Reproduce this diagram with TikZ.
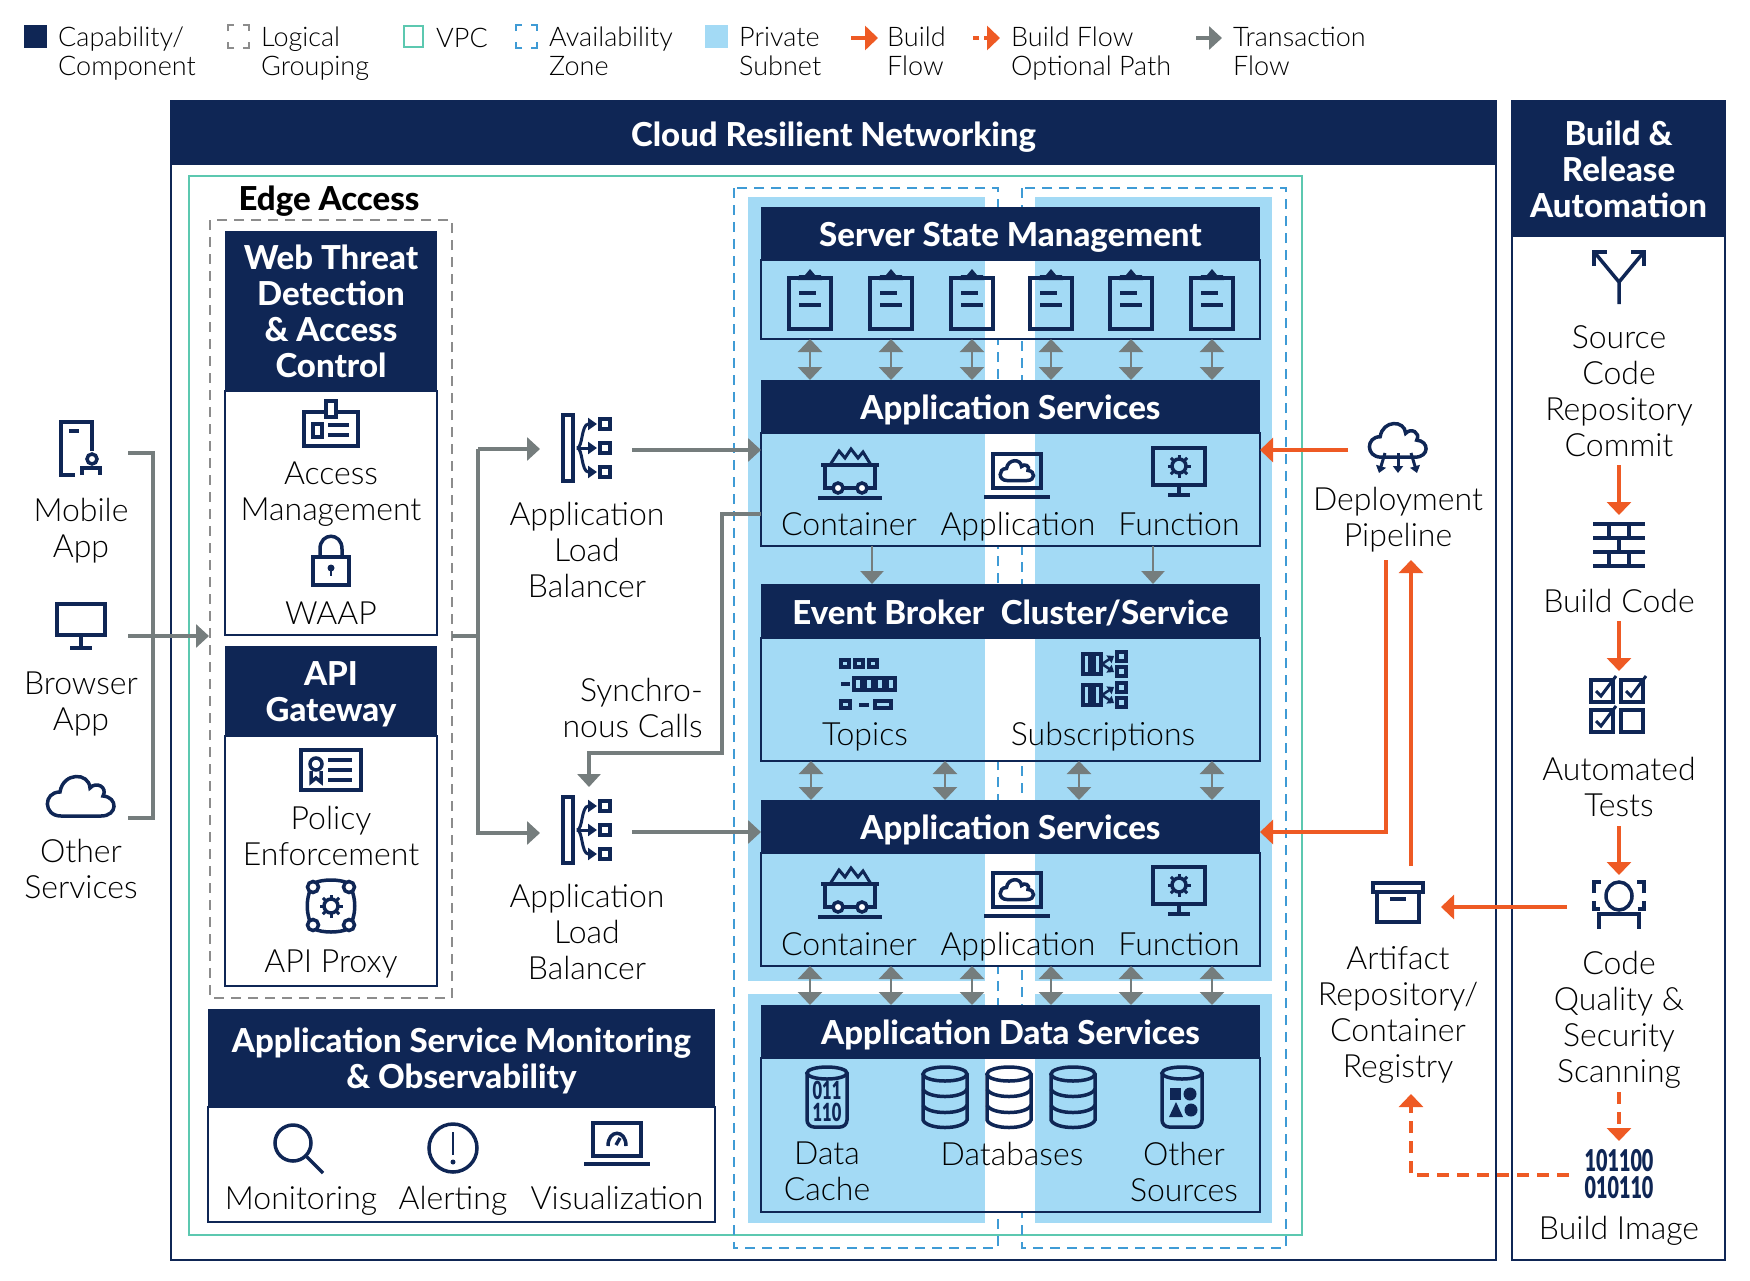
\documentclass[tikz,border=0pt]{standalone}
\usepackage{fontspec}
\setmainfont{Lato}
\newfontfamily\lightfont{Lato Light}
\newfontfamily\headfont{Lato Heavy}
\newfontfamily\bitsfont{Lato Black}[FakeStretch=0.66]
\usetikzlibrary{arrows.meta}

\definecolor{navy}{HTML}{0F2655}
\definecolor{subnet}{HTML}{A3DAF5}
\definecolor{vpcteal}{HTML}{5CC8B0}
\definecolor{azblue}{HTML}{3F9BD5}
\definecolor{txgrey}{HTML}{757D7D}
\definecolor{bforange}{HTML}{EE5A24}
\definecolor{grpgrey}{HTML}{8C8C8C}

\tikzset{
  lbl/.style={align=center,inner sep=0pt,yshift=-5pt,text=black,font=\lightfont\fontsize{32}{36}\selectfont,
    execute at begin node=\strut,execute at end node=\strut},
  leg/.style={align=left,anchor=west,inner sep=0pt,yshift=-5pt,text=black,font=\lightfont\fontsize{27}{29}\selectfont,
    execute at begin node=\strut,execute at end node=\strut},
  headbar/.style={fill=navy,inner sep=0pt,outer sep=0pt},
  headtxt/.style={text=white,align=center,inner sep=0pt,yshift=-6pt,font=\headfont\fontsize{33}{36}\selectfont,
    execute at begin node=\strut,execute at end node=\strut},
  bodybox/.style={draw=navy,line width=2.5pt,inner sep=0pt,outer sep=0pt},
  ico/.style={draw=navy,line width=3.5pt},
  tx/.style={draw=txgrey,line width=3.5pt,-{Triangle[length=13pt,width=23pt]}},
  twoway/.style={draw=txgrey,line width=2.5pt,{Triangle[length=13pt,width=24pt]}-{Triangle[length=13pt,width=24pt]}},
  build/.style={draw=bforange,line width=3.5pt,-{Triangle[length=13pt,width=24pt]}},
  buildopt/.style={build,dash pattern=on 12pt off 8pt},
}

% nombre, x1, x2, ytop, yhead, ybot, titulo
\newcommand{\panelbox}[7]{%
  \node[bodybox,minimum width={(#3-#2)*1pt},minimum height={(#6-#5)*1pt}] (#1body) at ({(#2+#3)/2},{(#5+#6)/2}) {};
  \node[headbar,minimum width={(#3-#2)*1pt},minimum height={(#5-#4)*1pt}] (#1) at ({(#2+#3)/2},{(#4+#5)/2}) {};
  \node[headtxt] (#1txt) at (#1) {#7};
}

% --- Iconos ---
\newcommand{\iconclip}[1]{\begin{scope}[shift={(#1)}]
  \draw[ico] (-21,-21) rectangle (21,30);
  \fill[navy] (-12,-19) -- (-11,-24) -- (-5,-24) -- (0,-30) -- (5,-24) -- (11,-24) -- (12,-19) -- cycle;
  \draw[ico] (-11,-6) -- (6,-6) (-11,6) -- (11,6);
\end{scope}}
\newcommand{\iconcloud}[2]{\begin{scope}[shift={(#1)},scale=#2]
  \draw[ico] (-20,19) .. controls (-38,19) and (-38,-5) .. (-21,-5)
    .. controls (-18,-25) and (8,-25) .. (9,-9)
    .. controls (15,-16) and (27,-10) .. (22,-1)
    .. controls (37,0) and (37,19) .. (20,19) -- cycle;
\end{scope}}
\newcommand{\icongear}[2]{\begin{scope}[shift={(#1)},scale=#2]
  \draw[ico] (0,0) circle (7);
  \foreach \a in {0,45,...,315} { \draw[draw=navy,line width=3pt] (\a:7) -- (\a:11.5); }
\end{scope}}
\newcommand{\iconlb}[1]{\begin{scope}[shift={(#1)}]
  \draw[ico] (-24,-33) rectangle (-14,33);
  \foreach \y in {-24,0,24} {
    \draw[ico] (13,\y-5) rectangle (23,\y+5);
    \draw[draw=navy,line width=3pt,-{Triangle[length=9pt,width=12pt]}] (-10,0) .. controls (-4,0) and (-6,\y) .. (10,\y);
  }
\end{scope}}
\newcommand{\iconcart}[1]{\begin{scope}[shift={(#1)}]
  \draw[ico] (-29,-8) -- (29,-8) (-25,-8) -- (-25,15) -- (25,15) -- (25,-8);
  \draw[draw=navy,line width=3pt] (-20,-8) -- (-11,-22) -- (-5,-15) -- (1,-24) -- (8,-15) -- (13,-21) -- (21,-8);
  \draw[ico,fill=white] (-12,15) circle (5) (12,15) circle (5);
  \draw[ico] (-32,25) -- (32,25);
\end{scope}}
\newcommand{\iconlaptop}[1]{\begin{scope}[shift={(#1)}]
  \draw[ico] (-24,-22) rectangle (24,12);
  \iconcloud{0,-5}{0.5}
  \draw[ico] (-33,21) -- (33,21);
\end{scope}}
\newcommand{\iconscreen}[1]{\begin{scope}[shift={(#1)}]
  \draw[ico] (-26,-24) rectangle (26,13);
  \icongear{0,-6}{1}
  \draw[ico] (0,13) -- (0,23) (-11,23) -- (11,23);
\end{scope}}
\newcommand{\iconcyl}[1]{\begin{scope}[shift={(#1)}]
  \draw[ico,rounded corners=7pt] (-20,-24) -- (-20,30) -- (20,30) -- (20,-24);
  \draw[ico] (0,-24) ellipse (20 and 6);
\end{scope}}
\newcommand{\icondb}[1]{\begin{scope}[shift={(#1)}]
  \draw[ico] (0,-23) ellipse (22 and 7);
  \draw[ico] (-22,-23) -- (-22,23) .. controls (-18,33) and (18,33) .. (22,23) -- (22,-23);
  \draw[ico] (-22,-8) .. controls (-18,2) and (18,2) .. (22,-8);
  \draw[ico] (-22,8) .. controls (-18,18) and (18,18) .. (22,8);
\end{scope}}
\newcommand{\legcorners}[3]{\begin{scope}[shift={(#2,#3)}]
  \draw[draw=#1,line width=2.5pt] (0,6) -- (0,0) -- (6,0) (15,0) -- (21,0) -- (21,6)
    (21,17) -- (21,23) -- (15,23) (6,23) -- (0,23) -- (0,17);
\end{scope}}

\begin{document}
\begin{tikzpicture}[x=1pt,y=-1pt]
\useasboundingbox (0,0) rectangle (1750,1280);

% --- Leyenda ---
\fill[navy] (24,25) rectangle (47,48);
\node[leg] (legcap) at (58,51) {Capability/\\Component};
\legcorners{grpgrey}{228}{25}
\node[leg] (leggrp) at (261,51) {Logical\\Grouping};
\draw[draw=vpcteal,line width=2.5pt] (404,26) rectangle (423,47);
\node[leg] (legvpc) at (436,37) {VPC};
\legcorners{azblue}{516}{25}
\node[leg] (legaz) at (549,51) {Availability\\Zone};
\fill[subnet] (705,25) rectangle (728,48);
\node[leg] (legsub) at (739,51) {Private\\Subnet};
\coordinate (bfa) at (851,38);
\coordinate (bfb) at (878,38);
\draw[build] (bfa) -- (bfb);
\node[leg] (legbf) at (887,51) {Build\\Flow};
\coordinate (boa) at (973,38);
\coordinate (bob) at (1000,38);
\draw[build,dash pattern=on 6pt off 5pt] (boa) -- (bob);
\node[leg] (legbo) at (1011,51) {Build Flow\\Optional Path};
\coordinate (txa) at (1196,38);
\coordinate (txb) at (1222,38);
\draw[tx] (txa) -- (txb);
\node[leg] (legtx) at (1233,51) {Transaction\\Flow};

% --- Cajas exteriores ---
\draw[draw=navy,line width=2pt] (171,101) rectangle (1496,1260);
\draw[draw=navy,line width=2pt] (1512,101) rectangle (1725,1260);
\draw[draw=vpcteal,line width=2.5pt] (189,176) rectangle (1302,1235);
\draw[draw=azblue,line width=2pt,dash pattern=on 10pt off 7pt] (734,188) rectangle (998,1248);
\draw[draw=azblue,line width=2pt,dash pattern=on 10pt off 7pt] (1022,188) rectangle (1286,1248);
\node[headbar,minimum width=1325pt,minimum height=64pt] (crn) at (833.5,133) {};
\node[headtxt] (crntxt) at (crn) {Cloud Resilient Networking};
\node[headbar,minimum width=213pt,minimum height=136pt] (bra) at (1618.5,169) {};
\node[headtxt] (bratxt) at (bra) {Build \&\\Release\\Automation};

% --- Subredes privadas ---
\fill[subnet] (748,197) rectangle (985,981);
\fill[subnet] (1035,197) rectangle (1272,981);
\fill[subnet] (748,994) rectangle (985,1223);
\fill[subnet] (1035,994) rectangle (1272,1223);
\foreach \ya/\yb in {260/339,433/546,638/761,853/966,1058/1212} {
  \fill[white] (985,\ya) rectangle (1035,\yb);
}

% --- Paneles ---
\panelbox{ssm}{761}{1260}{207}{260}{339}{Server State Management}
\panelbox{appa}{761}{1260}{380}{433}{546}{Application Services}
\panelbox{ebc}{761}{1260}{584}{638}{761}{Event Broker\enspace Cluster/Service}
\panelbox{appb}{761}{1260}{800}{853}{966}{Application Services}
\panelbox{ads}{761}{1260}{1005}{1058}{1212}{Application Data Services}

\node[headtxt,text=black] (edge) at (329,197) {Edge Access};
\draw[draw=grpgrey,line width=2pt,dash pattern=on 10pt off 7pt] (210,220) rectangle (452,998);
\panelbox{wtd}{225}{437}{231}{391}{635}{Web Threat\\Detection\\\& Access\\Control}
\panelbox{api}{225}{437}{646}{736}{986}{API\\Gateway}
\panelbox{mon}{208}{715}{1009}{1107}{1222}{Application Service Monitoring\\\& Observability}

% --- Entradas ---
\begin{scope}[shift={(81,449)}]
  \draw[ico] (11,2) -- (11,-27) -- (-20,-27) -- (-20,26) -- (-6,26);
  \draw[ico] (-12,-18) -- (-2,-18);
  \draw[ico] (11,10) circle (5);
  \draw[ico] (1,26) -- (1,19) -- (19,19) -- (19,26);
\end{scope}
\node[lbl] (mobile) at (81,528) {Mobile\\App};
\begin{scope}[shift={(81,626)}]
  \draw[ico] (-24,-22) rectangle (24,9);
  \draw[ico] (0,9) -- (0,22) (-11,22) -- (11,22);
\end{scope}
\node[lbl] (browser) at (81,702) {Browser\\App};
\iconcloud{81,797}{1}
\node[lbl] (other) at (81,869) {Other\\Services};

% --- Borde: iconos ---
\begin{scope}[shift={(331,424)}]
  \draw[ico] (-27,-12) rectangle (27,22);
  \draw[ico,fill=white] (-5,-23) rectangle (5,-7);
  \draw[ico] (-18,0) rectangle (-9,13);
  \draw[ico] (-3,1) -- (18,1) (-3,11) -- (18,11);
\end{scope}
\node[lbl] (accmgmt) at (331,492) {Access\\Management};
\begin{scope}[shift={(331,561)}]
  \draw[ico] (-18,-4) rectangle (18,24);
  \draw[ico] (-11,-4) -- (-11,-12) .. controls (-11,-29) and (11,-29) .. (11,-12) -- (11,-4);
  \fill[navy] (0,7) circle (3.5);
  \draw[draw=navy,line width=2.5pt] (0,7) -- (0,15);
\end{scope}
\node[lbl] (waap) at (331,612) {WAAP};
\begin{scope}[shift={(331,770)}]
  \draw[ico] (-30,-20) rectangle (30,20);
  \draw[ico] (-15,-6) circle (6);
  \draw[ico] (-20,1) -- (-20,12) -- (-15,8) -- (-10,12) -- (-10,1);
  \draw[ico] (-3,-10) -- (21,-10) (-3,0) -- (21,0) (-3,10) -- (21,10);
\end{scope}
\node[lbl] (policy) at (331,836) {Policy\\Enforcement};
\begin{scope}[shift={(331,906)}]
  \draw[ico] (-17,-23) .. controls (-8,-27) and (8,-27) .. (17,-23) .. controls (26,-10) and (26,10) .. (17,23) .. controls (8,27) and (-8,27) .. (-17,23) .. controls (-26,10) and (-26,-10) .. (-17,-23);
  \foreach \px/\py in {-18/-19,18/-19,18/19,-18/19} { \draw[ico,fill=white] (\px,\py) circle (5.5); }
  \icongear{0,0}{1}
\end{scope}
\node[lbl] (proxy) at (331,960) {API Proxy};

% --- Balanceadores ---
\iconlb{587,448}
\iconlb{587,830}
\node[lbl] (lbatxt) at (587,550) {Application\\Load\\Balancer};
\node[lbl] (lbbtxt) at (587,932) {Application\\Load\\Balancer};
\node[lbl,align=right,anchor=east] (sync) at (703,708) {Synchro-\\nous Calls};

% --- Monitoreo ---
\begin{scope}[shift={(299,1149)}]
  \draw[ico] (-6,-6) circle (18);
  \draw[ico] (7,7) -- (24,24);
\end{scope}
\node[lbl] (monit) at (301,1197) {Monitoring};
\begin{scope}[shift={(453,1148)}]
  \draw[ico] (0,0) circle (24);
  \draw[draw=navy,line width=2.5pt] (0,-16) -- (0,7);
  \fill[navy] (0,14) circle (2.5);
\end{scope}
\node[lbl] (alert) at (453,1197) {Alerting};
\begin{scope}[shift={(617,1142)}]
  \draw[ico] (-24,-19) rectangle (24,14);
  \draw[ico] (-9,4) .. controls (-9,-13) and (9,-13) .. (9,4);
  \draw[ico] (-1,3) -- (3,-4);
  \draw[ico] (-33,22) -- (33,22);
\end{scope}
\node[lbl] (visu) at (617,1197) {Visualization};

% --- Iconos de los paneles ---
\foreach \x in {810,891,972,1051,1131,1212} { \iconclip{\x,299} }
\iconcart{850,473}
\iconlaptop{1017,476}
\iconscreen{1179,472}
\node[lbl] (cona) at (849,523) {Container};
\node[lbl] (apla) at (1018,523) {Application};
\node[lbl] (funa) at (1179,523) {Function};
\begin{scope}[shift={(867,684)}]
  \foreach \x in {-22,-8,6} { \draw[draw=navy,line width=3.5pt] (\x-4,-24) rectangle (\x+4,-17); }
  \draw[draw=navy,line width=3.5pt] (-26,0) -- (-17,0);
  \foreach \x in {-9,2,13,24} { \draw[draw=navy,line width=3.5pt] (\x-4,-6) rectangle (\x+4,6); }
  \draw[draw=navy,line width=3.5pt] (-26,17) rectangle (-17,24) (-8,21) -- (2,21) (8,17) rectangle (24,24);
\end{scope}
\node[lbl] (topics) at (865,733) {Topics};
\foreach \y in {664,695} {
  \begin{scope}[shift={(1105,\y)}]
    \draw[ico] (-22,-10) rectangle (-15,10) (-11,-10) rectangle (-4,10);
    \draw[ico] (12,-12) rectangle (21,-3) (12,3) rectangle (21,12);
    \draw[draw=navy,line width=2.5pt,-{Triangle[length=6pt,width=9pt]}] (-3,0) -- (9,-8);
    \draw[draw=navy,line width=2.5pt,-{Triangle[length=6pt,width=9pt]}] (-3,0) -- (9,8);
  \end{scope}
}
\node[lbl] (subs) at (1103,733) {Subscriptions};
\iconcart{850,892}
\iconlaptop{1017,895}
\iconscreen{1179,891}
\node[lbl] (conb) at (849,943) {Container};
\node[lbl] (aplb) at (1018,943) {Application};
\node[lbl] (funb) at (1179,943) {Function};
\iconcyl{827,1097}
\node[inner sep=0pt,align=center,text=navy,font=\bitsfont\fontsize{25}{22}\selectfont] (bitsa) at (827,1101) {011\\110};
\foreach \x in {945,1009,1073} { \icondb{\x,1097} }
\iconcyl{1182,1097}
\fill[navy] (1170,1088) rectangle (1181,1100);
\fill[navy] (1190,1094) circle (6.5);
\fill[navy] (1176,1102) -- (1169,1117) -- (1183,1117) -- cycle;
\fill[navy] (1191,1110) circle (6.5);
\node[lbl] (dcache) at (827,1172) {Data\\Cache};
\node[lbl] (dbases) at (1012,1153) {Databases};
\node[lbl] (osrc) at (1184,1172) {Other\\Sources};

% --- Pipeline y artefactos ---
\iconcloud{1398,441}{0.85}
\begin{scope}[shift={(1398,447)}]
  \foreach \xa/\xb in {-13/-19,0/0,13/19} {
    \draw[draw=navy,line width=3pt,-{Triangle[length=7pt,width=10pt]}] (\xa,6) -- (\xb,26);
  }
\end{scope}
\node[lbl] (deploy) at (1398,517) {Deployment\\Pipeline};
\begin{scope}[shift={(1398,902)}]
  \draw[ico] (-25,-19) rectangle (25,-10);
  \draw[ico] (-21,-10) -- (-21,20) -- (21,20) -- (21,-10);
  \draw[ico] (-8,-3) -- (8,-3);
\end{scope}
\node[lbl] (artif) at (1398,1012) {Artifact\\Repository/\\Container\\Registry};

% --- Columna de build ---
\begin{scope}[shift={(1619,277)}]
  \draw[ico] (0,27) -- (0,5) (0,5) -- (-24,-24) (0,5) -- (24,-24);
  \draw[ico] (-25,-11) -- (-25,-25) -- (-12,-25) (25,-11) -- (25,-25) -- (12,-25);
\end{scope}
\node[lbl] (src) at (1619,391) {Source\\Code\\Repository\\Commit};
\begin{scope}[shift={(1619,545)}]
  \draw[ico] (-26,-21) -- (26,-21) (-26,-7) -- (26,-7) (-26,7) -- (26,7) (-26,21) -- (26,21);
  \draw[ico] (-10,-21) -- (-10,-7) (10,-21) -- (10,-7) (0,-7) -- (0,7) (-10,7) -- (-10,21) (10,7) -- (10,21);
\end{scope}
\node[lbl] (bcode) at (1619,600) {Build Code};
\begin{scope}[shift={(1617,706)}]
  \foreach \px/\py in {-15/-15,15/-15,-15/15} {
    \draw[ico] (\px-11,\py-11) rectangle (\px+11,\py+11);
    \draw[draw=navy,line width=3pt] (\px-6,\py) -- (\px-1,\py+5) -- (\px+14,\py-15);
  }
  \draw[ico] (4,4) rectangle (26,26);
\end{scope}
\node[lbl] (tests) at (1619,787) {Automated\\Tests};
\begin{scope}[shift={(1619,905)}]
  \draw[ico] (-25,-12) -- (-25,-23) -- (-18,-23) (25,-12) -- (25,-23) -- (18,-23);
  \draw[ico] (-25,-4) -- (-25,4) -- (-19,4) (25,-4) -- (25,4) -- (19,4);
  \draw[ico] (0,-9) ellipse (13 and 14);
  \draw[ico] (-20,24) -- (-20,9) -- (20,9) -- (20,24);
\end{scope}
\node[lbl] (quality) at (1619,1017) {Code\\Quality \&\\Security\\Scanning};
\node[inner sep=0pt,align=center,text=navy,font=\bitsfont\fontsize{30}{27}\selectfont] (bits) at (1619,1174) {101100\\010110};
\node[lbl] (bimage) at (1619,1227) {Build Image};

% --- Flechas de transaccion ---
\coordinate (mobout) at (128,453);
\coordinate (broout) at (128,636);
\coordinate (othout) at (128,818);
\coordinate (edgein) at (209,636);
\coordinate (edgeout) at (452,636);
\coordinate (lbain) at (540,449);
\coordinate (lbbin) at (540,833);
\coordinate (lbaout) at (632,450);
\coordinate (lbbout) at (632,832);
\coordinate (syncin) at (589,787);
\draw[tx] (broout) -- (edgein);
\draw[tx,-] (mobout) -| (153,636) |- (othout);
\draw[tx,-] (edgeout) -- (478,636);
\draw[tx] (478,449) -- (lbain);
\draw[tx] (478,449) -- (478,833) -- (lbbin);
\draw[tx] (lbaout) -- (lbaout -| appabody.west);
\draw[tx] (lbbout) -- (lbbout -| appb.west);
\draw[tx] (722,514 -| appabody.west) -- (722,514) -- (722,753) -- (589,753) -- (syncin);
\foreach \x in {810,891,972,1051,1131,1212} {
  \draw[twoway] (\x,0 |- ssmbody.south) -- (\x,0 |- appa.north);
  \draw[twoway] (\x,0 |- appbbody.south) -- (\x,0 |- ads.north);
}
\foreach \x in {811,945,1079,1212} {
  \draw[twoway] (\x,0 |- ebcbody.south) -- (\x,0 |- appb.north);
}
\foreach \x in {872,1153} {
  \draw[tx,line width=2.5pt] (\x,0 |- appabody.south) -- (\x,0 |- ebc.north);
}

% --- Flechas de build ---
\coordinate (depout) at (1348,450);
\coordinate (pipedn) at (1386,560);
\coordinate (pipeup) at (1411,560);
\coordinate (artout) at (1411,866);
\coordinate (artin) at (1441,907);
\coordinate (cqout) at (1567,907);
\coordinate (biout) at (1569,1175);
\coordinate (optin) at (1411,1094);
\draw[build] (depout) -- (depout -| appa.east);
\draw[build] (pipedn) -- (1386,832) -- (appb.east |- 0,832);
\draw[build] (artout) -- (pipeup);
\draw[build] (cqout) -- (artin);
\draw[buildopt] (biout) -- (1411,1175) -- (optin);
\draw[build] (src.south |- 0,465) -- (src.south |- 0,515);
\draw[build] (src.south |- 0,621) -- (src.south |- 0,671);
\draw[build] (src.south |- 0,826) -- (src.south |- 0,875);
\draw[buildopt] (src.south |- 0,1092) -- (src.south |- 0,1141);

\end{tikzpicture}
\end{document}
